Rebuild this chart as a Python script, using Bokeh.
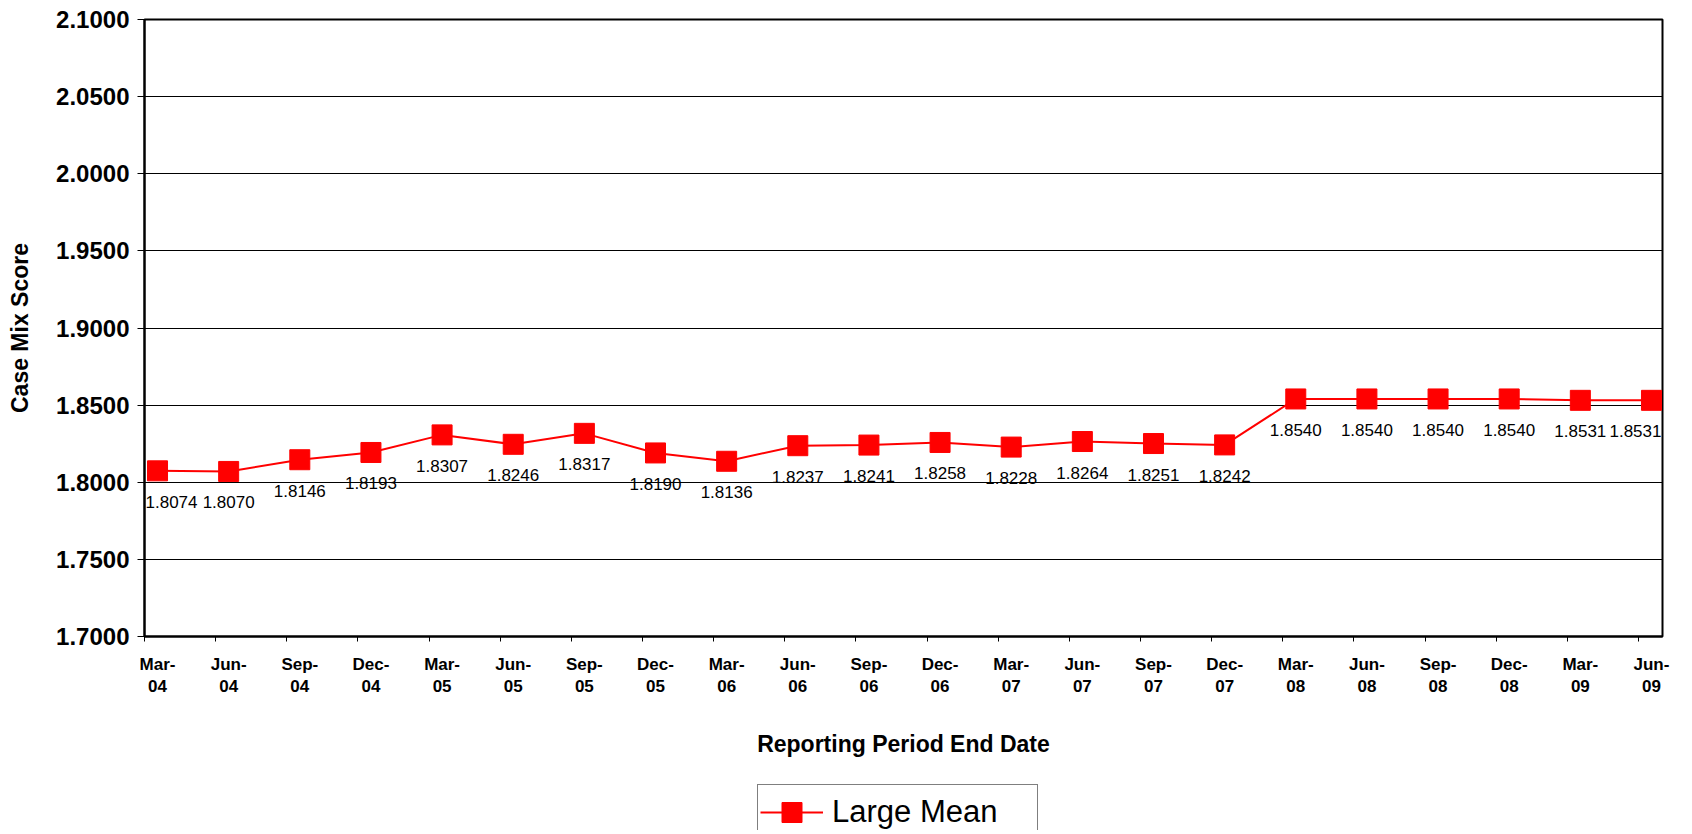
from bokeh.plotting import figure
from bokeh.layouts import column
from bokeh.models import (ColumnDataSource, FixedTicker, LabelSet, Legend, LegendItem,
                          PrintfTickFormatter, Range1d)
from bokeh.core.properties import value
from bokeh.embed import file_html
from bokeh.resources import INLINE

# ---- data ----
periods = ["Mar-\n04", "Jun-\n04", "Sep-\n04", "Dec-\n04",
           "Mar-\n05", "Jun-\n05", "Sep-\n05", "Dec-\n05",
           "Mar-\n06", "Jun-\n06", "Sep-\n06", "Dec-\n06",
           "Mar-\n07", "Jun-\n07", "Sep-\n07", "Dec-\n07",
           "Mar-\n08", "Jun-\n08", "Sep-\n08", "Dec-\n08",
           "Mar-\n09", "Jun-\n09"]
large_mean = [1.8074, 1.8070, 1.8146, 1.8193,
              1.8307, 1.8246, 1.8317, 1.8190,
              1.8136, 1.8237, 1.8241, 1.8258,
              1.8228, 1.8264, 1.8251, 1.8242,
              1.8540, 1.8540, 1.8540, 1.8540,
              1.8531, 1.8531]
y_ticks = [1.70, 1.75, 1.80, 1.85, 1.90, 1.95, 2.00, 2.05, 2.10]
series_name = "Large Mean"

FONT = "Liberation Sans"
RED = "#ff0000"
n = len(periods)
xs = list(range(n))
# keep the end labels inside the plot frame (Bokeh clips at the frame edge)
nudge = [0] * n
nudge[0] = 14
nudge[-1] = -16
src = ColumnDataSource(dict(x=xs, y=large_mean, dx=nudge,
                            lbl=["%.4f" % v for v in large_mean]))

W = 1676
p = figure(width=W, height=770, output_backend="svg", toolbar_location=None,
           x_range=Range1d(-0.183, n - 1 + 0.155),
           y_range=Range1d(y_ticks[0], y_ticks[-1]),
           min_border_left=144, min_border_top=19, min_border_right=14,
           min_border_bottom=134)
p.background_fill_color = "white"
p.border_fill_color = "white"
p.outline_line_color = "black"
p.outline_line_width = 2

line_r = p.line("x", "y", source=src, line_color=RED, line_width=2)
sq_r = p.scatter("x", "y", source=src, marker="square", size=20,
                 fill_color=RED, line_color=RED)

labels = LabelSet(x="x", y="y", text="lbl", source=src, y_offset=-31, x_offset="dx",
                  text_align="center", text_baseline="middle",
                  text_font=value(FONT), text_font_size="17px", text_color="black")
p.add_layout(labels)

# x axis
p.xaxis.ticker = FixedTicker(ticks=xs, minor_ticks=[i - 0.183 for i in xs])
p.xaxis.major_label_overrides = {i: periods[i] for i in xs}
p.xaxis.major_tick_out = 0
p.xaxis.major_tick_in = 0
p.xaxis.minor_tick_out = 5
p.xaxis.minor_tick_in = 0
p.xaxis.minor_tick_line_color = "black"
p.xaxis.minor_tick_line_width = 1
p.xaxis.axis_line_width = 2
p.xaxis.axis_line_color = "black"
p.xaxis.major_label_text_font = FONT
p.xaxis.major_label_text_font_size = "17px"
p.xaxis.major_label_text_font_style = "bold"
p.xaxis.major_label_text_color = "black"
p.xaxis.major_label_standoff = 13
p.xaxis.axis_label = "Reporting Period End Date"
p.xaxis.axis_label_text_font = FONT
p.xaxis.axis_label_text_font_size = "23px"
p.xaxis.axis_label_text_font_style = "bold"
p.xaxis.axis_label_text_color = "black"
p.xaxis.axis_label_standoff = 32
p.xgrid.visible = False

# y axis
p.yaxis.ticker = FixedTicker(ticks=y_ticks)
p.yaxis.formatter = PrintfTickFormatter(format="%.4f")
p.yaxis.major_tick_out = 7
p.yaxis.major_tick_in = 0
p.yaxis.minor_tick_out = 0
p.yaxis.minor_tick_in = 0
p.yaxis.axis_line_width = 2
p.yaxis.axis_line_color = "black"
p.yaxis.major_label_text_font = FONT
p.yaxis.major_label_text_font_size = "24px"
p.yaxis.major_label_text_font_style = "bold"
p.yaxis.major_label_text_color = "black"
p.yaxis.major_label_standoff = 8
p.yaxis.axis_label = "Case Mix Score"
p.yaxis.axis_label_text_font = FONT
p.yaxis.axis_label_text_font_size = "23px"
p.yaxis.axis_label_text_font_style = "bold"
p.yaxis.axis_label_text_color = "black"
p.yaxis.axis_label_standoff = 20
p.ygrid.ticker = FixedTicker(ticks=y_ticks)
p.ygrid.grid_line_color = "black"
p.ygrid.grid_line_width = 1

# legend strip below the chart (its ranges keep the series itself out of view)
leg = figure(width=W, height=60, output_backend="svg", toolbar_location=None,
             x_range=Range1d(-10, -9), y_range=Range1d(-10, -9),
             x_axis_type=None, y_axis_type=None,
             min_border_left=0, min_border_right=0, min_border_top=0, min_border_bottom=0)
leg.outline_line_color = None
leg.background_fill_color = "white"
leg.border_fill_color = "white"
l_line = leg.line("x", "y", source=src, line_color=RED, line_width=2)
l_sq = leg.scatter("x", "y", source=src, marker="square", size=20,
                   fill_color=RED, line_color=RED)
legend = Legend(items=[LegendItem(label=series_name, renderers=[l_line, l_sq])],
                location=(613, -10), orientation="horizontal",
                glyph_width=63, glyph_height=50, label_standoff=9,
                label_text_font=FONT, label_text_font_size="31px",
                label_text_color="black", label_width=203,
                padding=2, margin=0, spacing=0,
                border_line_color="black", border_line_width=1,
                background_fill_color="white", background_fill_alpha=1)
leg.add_layout(legend, "center")

layout = column(p, leg, spacing=0)
open("out.html", "w").write(file_html(layout, INLINE))
